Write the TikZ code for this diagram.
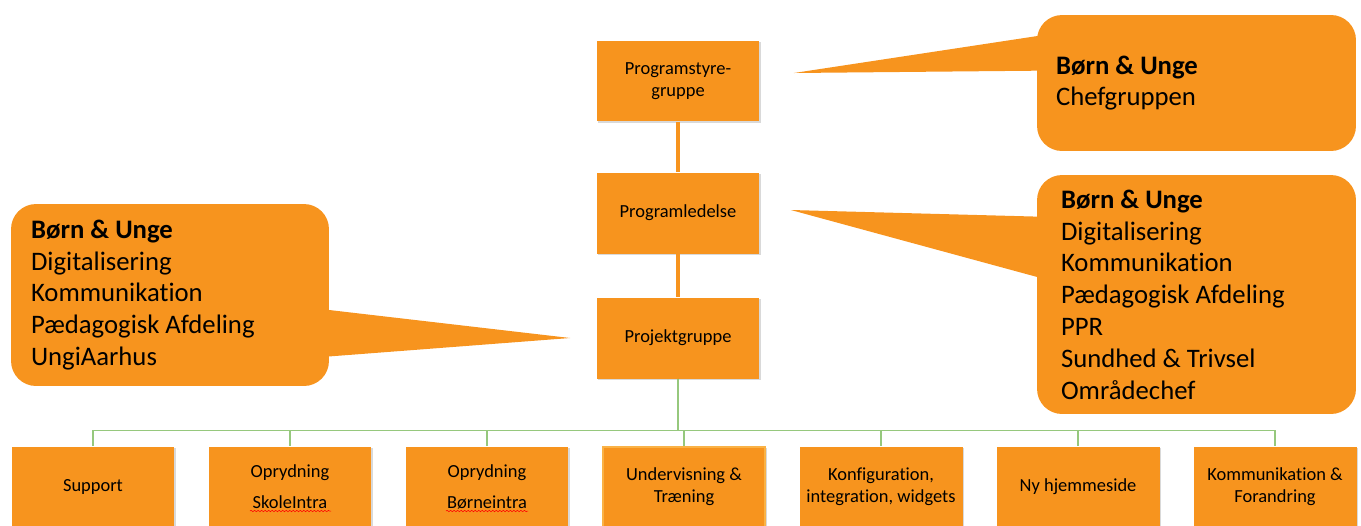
\documentclass[tikz,border=0pt]{standalone}
\usepackage{fontspec}
\setmainfont{Carlito}[Ligatures=NoCommon]
\usetikzlibrary{positioning}
\usetikzlibrary{calc}
\usetikzlibrary{shadows, decorations.pathmorphing}

\definecolor{boxorange}{RGB}{247,148,30}
\definecolor{boxedge}{RGB}{250,178,70}
\definecolor{linegreen}{RGB}{150,200,125}

\begin{document}
\begin{tikzpicture}[x=0.02cm, y=-0.02cm]
    % styles for the chart
    \tikzstyle{unit} = [fill=boxorange, minimum width=3.26cm, minimum height=1.62cm, align=center, inner sep=0pt, font=\fontsize{10.5}{12.5}\selectfont, drop shadow={shadow xshift=0.6pt, shadow yshift=-0.8pt, opacity=0.3}]
    \tikzstyle{callout} = [fill=boxorange, rounded corners=0.5cm, align=flush left, inner ysep=0pt, font=\fontsize{15.2}{18.1}\selectfont]
    \tikzstyle{stem} = [draw=boxorange, line width=2.3pt]
    \tikzstyle{branch} = [draw=linegreen, line width=0.6pt]
    \tikzstyle{squiggle} = [draw=red, line width=0.3pt, decorate, decoration={snake, amplitude=0.4pt, segment length=2pt}]

    \useasboundingbox (0,0) rectangle (1361,525);

    % the management column
    \node[unit] (styre) at (678,81) {Programstyre-\\gruppe};
    \node[unit] (ledelse) at (678,213) {Programledelse};
    \node[unit] (projekt) at (678,338) {Projektgruppe};
    \draw[stem] (styre.south) -- (ledelse.north);
    \draw[stem] (ledelse.south) -- (projekt.north);

    % the row of work streams under the project group
    \foreach \i/\x/\txt in {1/93/Support, 2/290/{Oprydning\\[5pt]SkoleIntra}, 3/487/{Oprydning\\[5pt]Børneintra}, 4/684/{Undervisning \&\\Træning}, 5/881/{Konfiguration,\\integration, widgets}, 6/1078/{Ny hjemmeside}, 7/1275/{Kommunikation \&\\Forandring}} {
        \node[unit] (T\i) at (\x,487) {\txt};
    }
    % highlighted stream
    \draw[boxedge, line width=1.2pt] ($(T4.south west)+(1,-1)$) rectangle ($(T4.north east)+(-1,1)$);

    % green tree lines
    \draw[branch, line width=1.1pt] (projekt.south) -- ($(projekt.south)+(0,51)$);
    \foreach \i in {1, 2, ..., 7} {
        \draw[branch] (projekt.south) |- ($(T\i.north)+(0,-16)$) -- (T\i.north);
    }

    % spell check marks
    \draw[squiggle] (250,511) -- (331,511);
    \draw[squiggle] (446,511) -- (528,511);
    \draw[squiggle] (31,374) -- (158,374);

    % speech bubbles with their pointers
    \node[callout, minimum width=6.38cm, minimum height=2.72cm, text width=5.62cm, inner xsep=0.38cm] (chefgrp) at (1196.5,83) {\textbf{Børn \& Unge}\\Chefgruppen};
    \node[callout, minimum width=6.38cm, minimum height=4.78cm, text width=5.42cm, inner xsep=0.48cm] (ledgrp) at (1196.5,294.5) {\textbf{Børn \& Unge}\\Digitalisering\\Kommunikation\\Pædagogisk Afdeling\\PPR\\Sundhed \& Trivsel\\Områdechef};
    \node[callout, minimum width=6.36cm, minimum height=3.64cm, text width=5.56cm, inner xsep=0.4cm] (projgrp) at (170,295) {\textbf{Børn \& Unge}\\Digitalisering\\Kommunikation\\Pædagogisk Afdeling\\UngiAarhus};

    \fill[boxorange] ($(styre.east)+(34,-8)$) -- ($(chefgrp.north west)+(3,21)$) -- ($(chefgrp.north west)+(3,56)$) -- cycle;
    \fill[boxorange] ($(ledelse.east)+(31,-3)$) -- ($(ledgrp.north west)+(3,42)$) -- ($(ledgrp.north west)+(3,103)$) -- cycle;
    \fill[boxorange] ($(projekt.west)+(-26,0)$) -- ($(projgrp.north east)+(-3,106)$) -- ($(projgrp.north east)+(-3,153)$) -- cycle;

\end{tikzpicture}
\end{document}
